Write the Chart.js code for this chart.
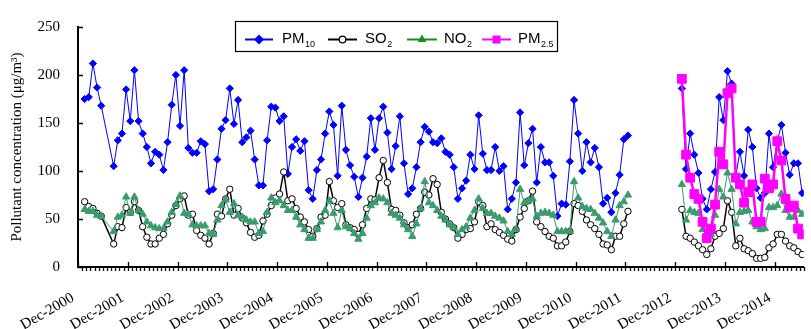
<!DOCTYPE html>
<html>
<head>
<meta charset="utf-8">
<script src="https://cdn.jsdelivr.net/npm/chart.js@4.4.1/dist/chart.umd.min.js"></script>
<style>
html,body{margin:0;padding:0;background:#fff;}
#wrap{width:811px;height:329px;}
</style>
</head>
<body>
<div id="wrap"><canvas id="c" width="811" height="329"></canvas></div>
<script>
// ---- axis labels ----
const xTickValues = [0,12,24,36,48,60,72,84,96,108,120,132,144,156,168];
const xTickLabels = ['Dec-2000','Dec-2001','Dec-2002','Dec-2003','Dec-2004','Dec-2005','Dec-2006',
  'Dec-2007','Dec-2008','Dec-2009','Dec-2010','Dec-2011','Dec-2012','Dec-2013','Dec-2014'];
const yTicks = [0,50,100,150,200,250];
const yTitle = 'Pollutant concentration (\u03bcg/m\u00b3)';

// ---- period A: Jan-2001 .. Dec-2011 (monthly, months 1..132 after Dec-2000) ----
const pm10A = [
  175,177,212,187,168,null,null,105,132,139,185,152,
  205,152,139,125,108,120,117,101,130,169,200,147,
  205,124,119,119,131,128,79,81,112,144,153,186,
  149,174,130,135,142,112,85,85,132,167,166,152,
  157,97,125,133,121,131,80,71,101,112,139,162,
  148,95,168,122,106,94,73,93,115,155,122,155,
  167,140,102,126,157,108,76,82,104,130,146,141,
  130,129,134,120,117,104,71,82,90,117,102,158,
  118,101,101,125,100,105,60,71,88,161,106,129,
  144,88,125,109,109,95,53,66,65,110,174,139,
  100,130,109,124,104,66,72,57,77,96,133,137];
const so2A = [
  68,63,61,56,53,null,null,24,42,41,62,57,
  68,59,42,31,24,24,30,34,45,54,64,71,
  74,54,55,38,33,30,24,35,55,53,71,81,
  54,61,51,46,36,31,33,48,55,64,72,76,
  99,69,71,61,52,47,39,32,40,52,54,89,
  69,62,66,44,41,39,34,44,61,71,70,93,
  111,88,60,59,54,46,41,44,55,61,78,75,
  92,86,57,50,45,41,30,34,39,40,47,68,
  64,42,45,39,36,33,29,27,39,52,61,69,
  79,47,42,37,32,30,22,22,26,37,66,64,
  58,49,44,40,34,24,23,18,32,32,45,58];
const no2A = [
  60,58,58,54,53,null,null,37,52,54,73,56,
  73,59,55,47,43,41,40,40,47,57,65,74,
  56,55,44,43,43,43,35,34,49,64,70,57,
  66,54,52,49,47,47,35,37,57,72,67,69,
  64,59,59,52,44,39,30,30,39,47,59,69,
  56,41,59,42,40,35,29,35,51,64,67,72,
  71,67,56,54,51,44,39,32,45,61,89,67,
  64,59,53,49,44,41,34,39,42,51,59,71,
  61,56,56,53,51,48,37,34,39,81,67,69,
  71,53,56,57,56,54,37,37,37,37,89,72,
  63,61,60,56,51,46,37,32,49,64,68,75];

// ---- period B: Jan-2013 .. Jun-2015 (months 145..174) ----
const pm10B = [186,102,139,117,98,71,60,81,99,177,153,204,191,95,120,95,143,125,82,72,77,139,104,131,148,119,96,108,108,77];
const so2B  = [60,32,30,26,22,18,13,19,32,35,40,69,57,22,30,19,17,14,9,9,10,20,24,34,34,27,22,20,16,13];
const no2B  = [86,49,59,57,56,39,34,34,54,81,73,98,81,45,57,58,59,47,42,39,40,62,62,64,76,59,52,52,59,55];
const pm25B = [196,117,93,76,71,47,30,40,65,120,107,181,186,93,86,67,78,86,47,47,92,82,86,131,111,71,62,64,40,34];

const START_A = 1, START_B = 145, MID = 0.6;

function pts(values, first) {
  const out = [];
  values.forEach((v, i) => { if (v !== null) out.push({x: first + i + MID, y: v}); });
  return out;
}
const BREAK = {x: 139, y: null};
function joined(a, b) { return a ? pts(a, START_A).concat([BREAK], pts(b, START_B)) : pts(b, START_B); }

const SERIF = '"Liberation Serif", "Times New Roman", serif';
const SANS = '"Liberation Sans", Arial, sans-serif';
const NO2_PLOT = '#3a9c6c';

const legendItems = [
  {main:'PM', sub:'10',  color:'#0000ff', lw:2, x1:245, x2:273, mk:'diamond', tx:282},
  {main:'SO', sub:'2',   color:'#000000', lw:2, x1:328, x2:357, mk:'circle',  tx:365},
  {main:'NO', sub:'2',   color:'#1a8c1a', lw:2, x1:407, x2:437, mk:'triangle',tx:444},
  {main:'PM', sub:'2.5', color:'#ff00ff', lw:2, x1:482, x2:511, mk:'square',  tx:518}
];

function marker(ctx, type, cx, cy, color) {
  ctx.beginPath();
  if (type === 'diamond') {
    const r = 5;
    ctx.moveTo(cx - r, cy); ctx.lineTo(cx, cy - r); ctx.lineTo(cx + r, cy); ctx.lineTo(cx, cy + r); ctx.closePath();
    ctx.fillStyle = color; ctx.fill();
  } else if (type === 'circle') {
    ctx.arc(cx, cy, 3.3, 0, Math.PI * 2);
    ctx.fillStyle = '#fff'; ctx.fill(); ctx.lineWidth = 1.2; ctx.strokeStyle = color; ctx.stroke();
  } else if (type === 'triangle') {
    const r = 5;
    ctx.moveTo(cx, cy - r); ctx.lineTo(cx + r * 0.866, cy + r * 0.5); ctx.lineTo(cx - r * 0.866, cy + r * 0.5); ctx.closePath();
    ctx.fillStyle = color; ctx.fill();
  } else {
    ctx.rect(cx - 4, cy - 4, 8, 8);
    ctx.fillStyle = color; ctx.fill();
  }
}

const decor = {
  id: 'decor',
  afterDraw(chart) {
    const {ctx, chartArea: a, scales: {x, y}} = chart;
    ctx.save();
    // tick marks
    ctx.strokeStyle = '#000';
    ctx.lineWidth = 1.3;
    ctx.beginPath();
    for (let m = 1; m <= x.max; m++) {
      const px = Math.round(x.getPixelForValue(m)) + 0.5;
      ctx.moveTo(px, a.bottom); ctx.lineTo(px, a.bottom + 4);
    }
    xTickValues.forEach(v => {
      const px = Math.round(x.getPixelForValue(v)) + 0.5;
      ctx.moveTo(px, a.bottom); ctx.lineTo(px, a.bottom - 5);
    });
    yTicks.forEach(v => {
      const py = Math.round(y.getPixelForValue(v)) + 0.5;
      ctx.moveTo(a.left, py); ctx.lineTo(a.left + 5, py);
    });
    ctx.stroke();
    // legend
    ctx.fillStyle = '#fff';
    ctx.fillRect(235, 21, 322, 30);
    ctx.strokeStyle = '#000'; ctx.lineWidth = 1.2;
    ctx.strokeRect(235.5, 21.5, 322, 30);
    const ly = 39.5;
    legendItems.forEach(it => {
      ctx.beginPath();
      ctx.strokeStyle = it.color; ctx.lineWidth = it.lw;
      ctx.moveTo(it.x1, ly); ctx.lineTo(it.x2, ly); ctx.stroke();
      marker(ctx, it.mk, (it.x1 + it.x2) / 2, ly, it.color);
      ctx.fillStyle = '#000';
      ctx.textBaseline = 'alphabetic';
      ctx.textAlign = 'left';
      ctx.font = '15px ' + SANS;
      ctx.fillText(it.main, it.tx, 43);
      const w = ctx.measureText(it.main).width;
      ctx.font = '9px ' + SANS;
      ctx.fillText(it.sub, it.tx + w + 0.5, 47);
    });
    ctx.restore();
  }
};

new Chart(document.getElementById('c'), {
  type: 'line',
  data: {
    datasets: [
      {label:'PM10', data: joined(pm10A, pm10B), borderColor:'#0000ff', backgroundColor:'#0000ff',
       borderWidth:1, pointStyle:'rectRot', pointRadius:3.6, pointBorderWidth:1, order:3},
      {label:'SO2', data: joined(so2A, so2B), borderColor:'#000000', backgroundColor:'#ffffff',
       borderWidth:1.5, pointStyle:'circle', pointRadius:3.2, pointBorderWidth:1, pointBackgroundColor:'#ffffff', order:2},
      {label:'NO2', data: joined(no2A, no2B), borderColor:NO2_PLOT, backgroundColor:NO2_PLOT,
       borderWidth:1, pointStyle:'triangle', pointRadius:4.2, pointBorderWidth:1, order:1},
      {label:'PM2.5', data: joined(null, pm25B), borderColor:'#ff00ff', backgroundColor:'#ff00ff',
       borderWidth:2.5, pointStyle:'rect', pointRadius:6.2, pointBorderWidth:1, order:0}
    ]
  },
  options: {
    responsive: false,
    devicePixelRatio: 1,
    animation: false,
    layout: {padding: {top: 19, right: 0, bottom: 0, left: 0}},
    elements: {line: {tension: 0}},
    plugins: {legend: {display: false}, tooltip: {enabled: false}},
    scales: {
      x: {
        type: 'linear', min: 0, max: 175,
        afterBuildTicks: s => { s.ticks = xTickValues.map(v => ({value: v})); },
        afterFit: s => { s.height = 62; },
        ticks: {autoSkip: false, minRotation: 30, maxRotation: 30, padding: 22, labelOffset: -5,
          color: '#000', font: {family: SERIF, size: 15},
          callback: (v, i) => xTickLabels[i]},
        grid: {display: false, drawTicks: false},
        border: {display: true, color: '#000', width: 2}
      },
      y: {
        min: 0, max: 250,
        afterBuildTicks: s => { s.ticks = yTicks.map(v => ({value: v})); },
        afterFit: s => { s.width = 78; },
        ticks: {padding: 18, color: '#000', font: {family: SERIF, size: 15}},
        grid: {display: false, drawTicks: false},
        border: {display: true, color: '#000', width: 2},
        title: {display: true, text: yTitle, color: '#000', font: {family: SERIF, size: 15}, padding: {top: 8, bottom: 0}}
      }
    }
  },
  plugins: [decor]
});
</script>
</body>
</html>
